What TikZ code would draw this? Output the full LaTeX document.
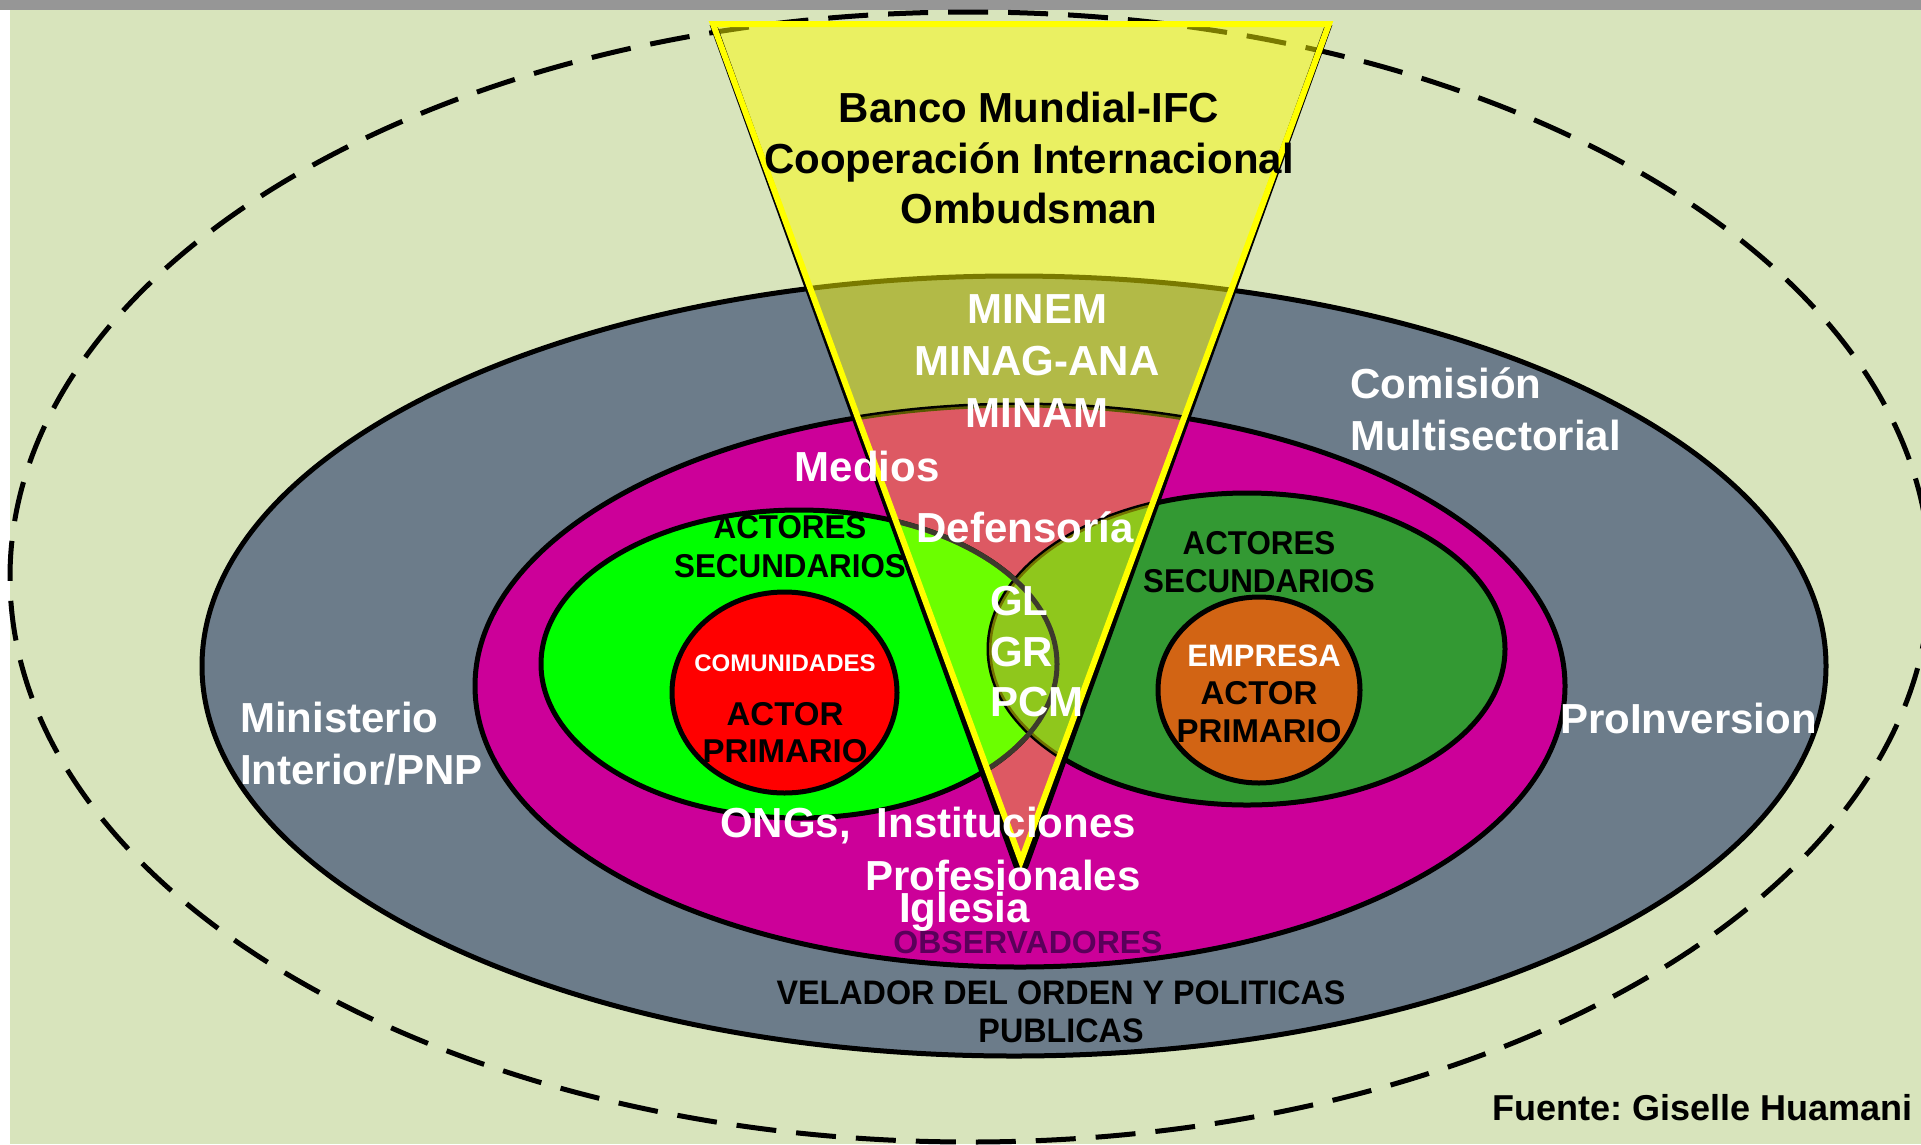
\documentclass[tikz,border=0pt]{standalone}
\usepackage{fontspec}
\setmainfont{Liberation Sans}
\newfontfamily\nar[FakeStretch=0.95]{Liberation Sans}
\definecolor{bgg}{RGB}{216,228,188}
\definecolor{band}{RGB}{150,150,150}
\definecolor{velador}{RGB}{108,124,138}
\definecolor{magen}{RGB}{204,0,153}
\definecolor{lgreen}{RGB}{0,255,0}
\definecolor{dgreen}{RGB}{51,153,51}
\definecolor{orng}{RGB}{210,100,20}
\definecolor{obs}{RGB}{90,0,90}
\definecolor{ylw}{RGB}{255,255,0}
\begin{document}
\frenchspacing
\begin{tikzpicture}[x=1pt,y=-1pt,
  tx/.style={inner sep=0pt, anchor=base, yshift=-0.358*#1pt},
  wt/.style={tx=#1, text=white, font=\bfseries\fontsize{#1}{#1}\selectfont},
  bk/.style={tx=#1, text=black, font=\bfseries\fontsize{#1}{#1}\selectfont},
  nb/.style={tx=#1, text=black, font=\nar\bfseries\fontsize{#1}{#1}\selectfont},
  ring/.style={draw=black, line width=5pt},
]
\useasboundingbox (0,0) rectangle (1921,1144);
% background
\fill[white] (0,0) rectangle (1921,1144);
\fill[bgg] (10,10) rectangle (1921,1144);
\fill[band] (0,0) rectangle (1921,10);
% funnel corners
\coordinate (tl) at (713,24);
\coordinate (tr) at (1329,24);
\coordinate (tip) at (1021,861);
\coordinate (sl) at (1017,866);
\coordinate (sr) at (1025,866);
% outer dashed ellipse
\draw[line width=5pt, dash pattern=on 40pt off 20pt] (970,577) ellipse [x radius=960pt, y radius=565pt];
% outer ellipse (velador)
\filldraw[ring, fill=velador] (1014,666) ellipse [x radius=812pt, y radius=390pt];
\fill[ylw, opacity=0.48] (tl) -- (tip) -- (tr) -- cycle;
% observadores ellipse
\filldraw[ring, fill=magen] (1020,686) ellipse [x radius=545pt, y radius=281pt];
\begin{scope}
  \clip (1020,686) ellipse [x radius=545pt, y radius=281pt];
  \fill[ylw, opacity=0.35] (tl) -- (tip) -- (tr) -- cycle;
\end{scope}
% secondary actors
\filldraw[ring, fill=lgreen] (799,664) ellipse [x radius=258pt, y radius=154pt];
\begin{scope}
  \clip (799,664) ellipse [x radius=258pt, y radius=154pt];
  \fill[ylw, opacity=0.42] (tl) -- (tip) -- (tr) -- cycle;
\end{scope}
\filldraw[ring, fill=dgreen] (1247,649) ellipse [x radius=258pt, y radius=156pt];
\begin{scope}
  \clip (1247,649) ellipse [x radius=258pt, y radius=156pt];
  \fill[ylw, opacity=0.45] (tl) -- (tip) -- (tr) -- cycle;
\end{scope}
\begin{scope}
  \clip (tl) -- (tip) -- (tr) -- cycle;
  \draw[draw=black!75!olive, line width=5pt] (799,664) ellipse [x radius=258pt, y radius=154pt];
\end{scope}
% primary actors
\filldraw[ring, fill=red] (784.5,692.5) ellipse [x radius=112.5pt, y radius=100.5pt];
\filldraw[ring, fill=orng] (1259,690) ellipse [x radius=101pt, y radius=93pt];
% funnel outlines
\draw[line width=7pt, line join=round] (tl) -- (sl) -- (sr) -- (tr);
\draw[draw=ylw, line width=6pt] (tl) -- (tip) -- (tr) -- cycle;
% texts
\node[bk=42] (banco) at (1029,107) {Banco Mundial-IFC};
\node[bk=42] (coop) at (1029,158) {Cooperación Internacional};
\node[bk=42] (omb) at (1029,208) {Ombudsman};
\node[wt=42] (minem) at (1037,308) {MINEM};
\node[wt=42] (minag) at (1037,360) {MINAG-ANA};
\node[wt=42] (minam) at (1037,412) {MINAM};
\node[wt=42, anchor=base west] (comision) at (1350,383) {Comisión};
\node[wt=42, anchor=base west] (multi) at (1350,435) {Multisectorial};
\node[wt=42] (medios) at (867,466) {Medios};
\node[wt=42] (defens) at (1025,527) {Defensoría};
\node[wt=42, anchor=base west] (gl) at (990,600) {GL};
\node[wt=42, anchor=base west] (gr) at (990,651) {GR};
\node[wt=42, anchor=base west] (pcm) at (990,701) {PCM};
\node[wt=42, anchor=base west] (minist) at (240,717) {Ministerio};
\node[wt=42, anchor=base west] (interior) at (240,769) {Interior/PNP};
\node[wt=42, anchor=base west] (proinv) at (1560,718) {ProInversion};
\node[wt=42, anchor=base west] (ongs) at (720,822) {ONGs,\hspace{0.62em}Instituciones};
\node[wt=42, anchor=base west] (profes) at (865,875) {Profesionales};
\node[wt=42, anchor=base west] (iglesia) at (899,907) {Iglesia};
\node[tx=32, text=obs, font=\bfseries\fontsize{32}{32}\selectfont] (observ) at (1028,942) {OBSERVADORES};
\node[nb=33] (act1) at (790,527) {ACTORES};
\node[nb=33] (sec1) at (790,566) {SECUNDARIOS};
\node[nb=33] (act2) at (1259,543) {ACTORES};
\node[nb=33] (sec2) at (1259,581) {SECUNDARIOS};
\node[wt=24] (comun) at (785,663) {COMUNIDADES};
\node[bk=33] (actor1) at (785,714) {ACTOR};
\node[bk=33] (prim1) at (785,751) {PRIMARIO};
\node[wt=31] (empresa) at (1264,655) {EMPRESA};
\node[bk=33] (actor2) at (1259,693) {ACTOR};
\node[bk=33] (prim2) at (1259,731) {PRIMARIO};
\node[nb=34] (velador) at (1061,992) {VELADOR DEL ORDEN Y POLITICAS};
\node[nb=34] (publicas) at (1061,1030) {PUBLICAS};
\node[inner sep=0pt, font=\bfseries\fontsize{36}{36}\selectfont, anchor=base east] (fuente) at (1913,1120) {Fuente: Giselle Huamani};
\end{tikzpicture}
\end{document}
